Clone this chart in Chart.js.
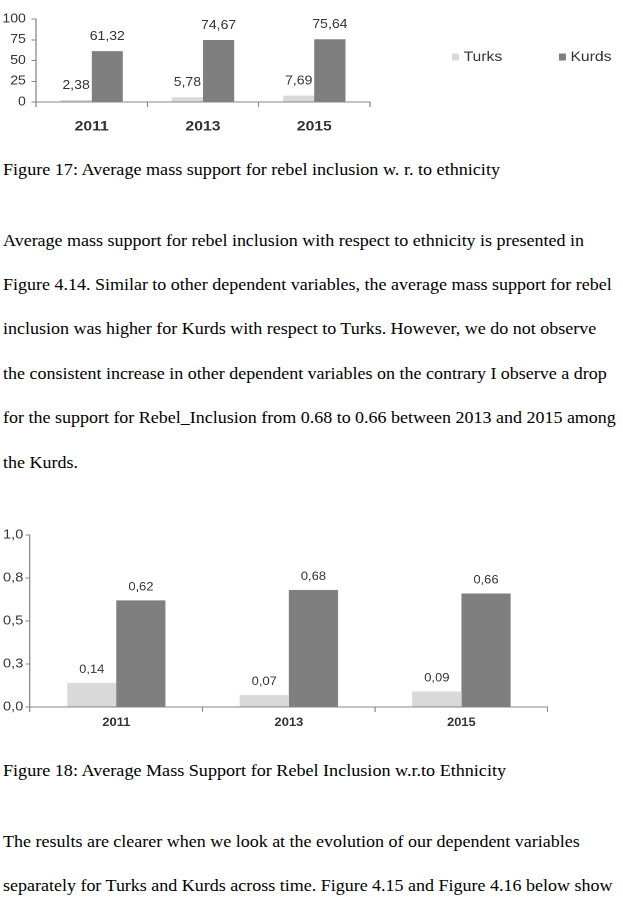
<!DOCTYPE html>
<html><head><meta charset="utf-8">
<script src="https://cdn.jsdelivr.net/npm/chart.js@4.4.0/dist/chart.umd.min.js"></script>
<style>
html,body{margin:0;padding:0;background:#fff;width:623px;height:902px;overflow:hidden;}
.t{position:absolute;left:3px;font-family:"Liberation Serif","Times New Roman",serif;font-size:16px;line-height:20px;color:#000;white-space:nowrap;transform-origin:0 0;transform:scaleX(1.124);}
.cap{transform:scaleX(1.132);}
#c1{position:absolute;left:0;top:0;width:623px;height:140px;}
#c2{position:absolute;left:0;top:500px;width:623px;height:240px;}
</style></head><body>
<canvas id="c1" width="554" height="140" style="width:623px;height:140px"></canvas>
<div class="t cap" style="top:160px">Figure 17: Average mass support for rebel inclusion w. r. to ethnicity</div>
<div class="t" style="top:231px">Average mass support for rebel inclusion with respect to ethnicity is presented in</div>
<div class="t" style="top:275px">Figure 4.14. Similar to other dependent variables, the average mass support for rebel</div>
<div class="t" style="top:319px">inclusion was higher for Kurds with respect to Turks. However, we do not observe</div>
<div class="t" style="top:364px">the consistent increase in other dependent variables on the contrary I observe a drop</div>
<div class="t" style="top:408px">for the support for Rebel_Inclusion from 0.68 to 0.66 between 2013 and 2015 among</div>
<div class="t" style="top:453px">the Kurds.</div>
<canvas id="c2" width="554" height="240" style="width:623px;height:240px"></canvas>
<div class="t cap" style="top:761px">Figure 18: Average Mass Support for Rebel Inclusion w.r.to Ethnicity</div>
<div class="t" style="top:832px">The results are clearer when we look at the evolution of our dependent variables</div>
<div class="t" style="top:876px">separately for Turks and Kurds across time. Figure 4.15 and Figure 4.16 below show</div>
<script>
const years = ['2011', '2013', '2015'];
const seriesNames = ['Turks', 'Kurds'];
const turks1 = [2.38, 5.78, 7.69];
const kurds1 = [61.32, 74.67, 75.64];
const yTicks1 = ['0', '25', '50', '75', '100'];
const turks2 = [0.14, 0.07, 0.09];
const kurds2 = [0.62, 0.68, 0.66];
const yTicks2 = ['0,0', '0,3', '0,5', '0,8', '1,0'];

const SANS = '"Liberation Sans", Arial, sans-serif';
const TURK_COLOR = '#d9d9d9';
const KURD_COLOR = '#7f7f7f';
const AXIS_COLOR = '#868686';

const barLabels = {
  id: 'barLabels',
  afterDatasetsDraw(chart, args, opts) {
    const ctx = chart.ctx;
    ctx.save();
    ctx.font = opts.font;
    ctx.fillStyle = opts.color;
    ctx.textAlign = 'center';
    ctx.textBaseline = 'middle';
    chart.data.datasets.forEach((ds, i) => {
      chart.getDatasetMeta(i).data.forEach((bar, j) => {
        const txt = ds.data[j].toFixed(2).replace('.', ',');
        ctx.fillText(txt, bar.x, bar.y - opts.offset);
      });
    });
    ctx.restore();
  }
};

const sideLegend = {
  id: 'sideLegend',
  afterDraw(chart, args, opts) {
    const ctx = chart.ctx;
    ctx.save();
    ctx.font = opts.font;
    ctx.textBaseline = 'middle';
    ctx.textAlign = 'left';
    chart.data.datasets.forEach((ds, i) => {
      const x = opts.x[i];
      ctx.fillStyle = ds.backgroundColor;
      ctx.fillRect(x, opts.y - opts.boxH / 2, opts.boxW, opts.boxH);
      ctx.fillStyle = opts.color;
      ctx.fillText(ds.label, x + opts.boxW + opts.gap, opts.y);
    });
    ctx.restore();
  }
};

function makeChart(id, turks, kurds, yLabels, yMax, cfg) {
  return new Chart(document.getElementById(id), {
    type: 'bar',
    data: {
      labels: years,
      datasets: [
        { label: seriesNames[0], data: turks, backgroundColor: TURK_COLOR, borderWidth: 0 },
        { label: seriesNames[1], data: kurds, backgroundColor: KURD_COLOR, borderWidth: 0 }
      ]
    },
    options: {
      responsive: false,
      animation: false,
      devicePixelRatio: 2,
      events: [],
      layout: { padding: { top: cfg.padTop, right: cfg.padRight, left: 0, bottom: 0 } },
      datasets: { bar: { categoryPercentage: cfg.catPct, barPercentage: 1.0 } },
      plugins: {
        legend: { display: false },
        tooltip: { enabled: false },
        barLabels: cfg.labels,
        sideLegend: cfg.legend
      },
      scales: {
        x: {
          grid: { display: true, offset: true, drawOnChartArea: false, drawTicks: true, tickLength: 5, color: AXIS_COLOR },
          border: { color: AXIS_COLOR, width: 1 },
          ticks: { font: { family: SANS, size: cfg.xFont, weight: 'bold' }, color: '#333', padding: cfg.xPad, maxRotation: 0 },
          afterFit(s) { s.height = cfg.xHeight; }
        },
        y: {
          min: 0, max: yMax,
          ticks: { stepSize: yMax / 4, callback: (v, i) => yLabels[i], font: { family: SANS, size: cfg.yFont }, color: '#333', padding: cfg.yPad },
          grid: { drawOnChartArea: false, drawTicks: true, tickLength: 4, color: AXIS_COLOR },
          border: { color: AXIS_COLOR, width: 1 },
          afterFit(s) { s.width = cfg.yWidth; }
        }
      }
    },
    plugins: [barLabels, sideLegend]
  });
}

makeChart('c1', turks1, kurds1, yTicks1, 100, {
  padTop: 19, padRight: 225, catPct: 0.56,
  xFont: 14, xPad: 11, xHeight: 38,
  yFont: 12.5, yPad: 5, yWidth: 32,
  labels: { font: '12.5px ' + SANS, color: '#333', offset: 14.5 },
  legend: { font: '14px ' + SANS, color: '#333', x: [402, 497], y: 57, boxW: 6.2, boxH: 7, gap: 4 }
});

makeChart('c2', turks2, kurds2, yTicks2, 1, {
  padTop: 35, padRight: 67, catPct: 0.57,
  xFont: 11.5, xPad: 4, xHeight: 33,
  yFont: 13, yPad: 2, yWidth: 26.7,
  labels: { font: '11.5px ' + SANS, color: '#333', offset: 13 },
  legend: { font: '12.5px ' + SANS, color: '#333', x: [456, 505], y: 618, boxW: 6.2, boxH: 7, gap: 1.5 }
});
</script>
</body></html>
